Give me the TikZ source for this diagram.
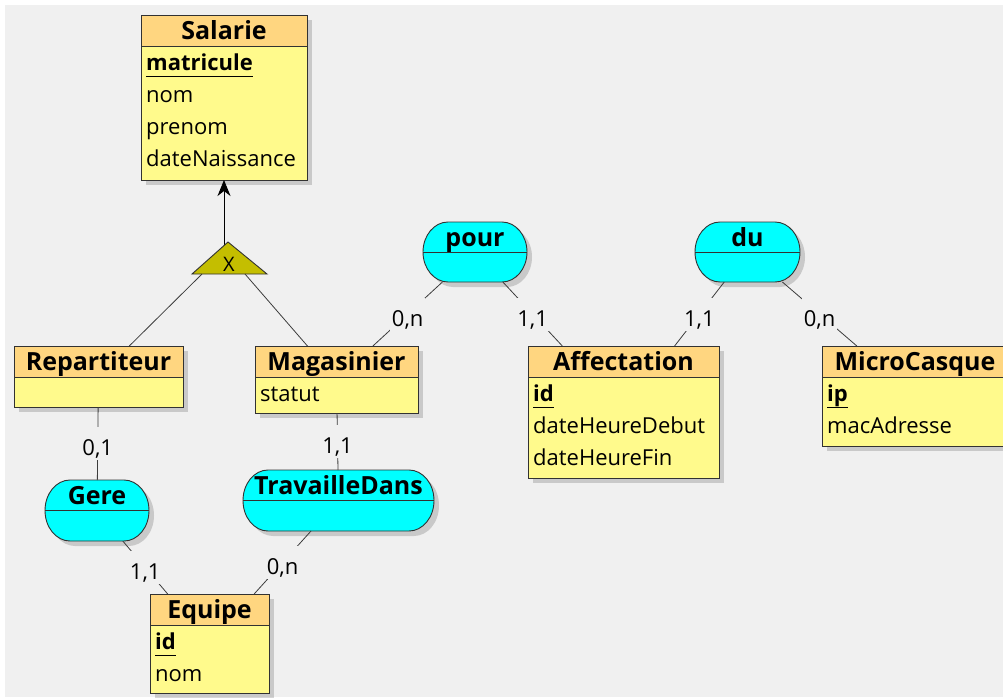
\documentclass[tikz,border=0pt]{standalone}
\usepackage{fontspec}
\setmainfont{Open Sans}
\usetikzlibrary{shadows,arrows.meta,calc}

\definecolor{bgcol}{RGB}{240,240,240}
\definecolor{headcol}{RGB}{255,214,128}
\definecolor{bodycol}{RGB}{255,250,140}
\definecolor{relcol}{RGB}{0,255,255}
\definecolor{tricol}{RGB}{196,190,0}
\definecolor{bordercol}{RGB}{50,50,50}
\definecolor{linkcol}{RGB}{60,60,60}

\newcommand{\attrfont}{\fontsize{22}{26}\selectfont}
\newcommand{\headfont}{\fontsize{25}{30}\selectfont\bfseries}
\newcommand{\keyattr}[1]{\setbox0\hbox{\bfseries #1}\rlap{\rule[-7pt]{\wd0}{1.5pt}}\box0}

% name, x1, y1, x2, y2, title
\newcommand{\entity}[6]{%
  \node[entbody, minimum width={(#4-#2)*1pt}, minimum height={(#5-#3)*1pt}] (#1) at ({(#2+#4)/2},{(#3+#5)/2}) {};
  \fill[headfill] (#1.north west) rectangle ([yshift=-31pt]#1.north east);
  \draw[entborder] ([yshift=-31pt]#1.north west) -- ([yshift=-31pt]#1.north east);
  \draw[entborder] (#1.north west) rectangle (#1.south east);
  \node[headtext] (#1-title) at ([yshift=-24.5pt]#1.north) {#6};
}
% name, x1, y1, x2, y2, title  (oval with flat top and bottom, elliptic ends)
\newcommand{\relation}[6]{%
  \node[relnode, minimum width={(#4-#2)*1pt}, minimum height={(#5-#3)*1pt}] (#1) at ({(#2+#4)/2},{(#3+#5)/2}) {};
  \pgfmathsetmacro{\ym}{(#3+#5)/2}
  \pgfmathsetmacro{\ry}{(#5-#3)/2}
  \pgfmathsetmacro{\rx}{25}
  \pgfmathsetmacro{\ka}{#2+\rx}
  \pgfmathsetmacro{\kb}{#4-\rx}
  \pgfmathsetmacro{\kc}{0.5523*\rx}
  \pgfmathsetmacro{\kd}{0.5523*\ry}
  \path[relshape] (\ka,#3) -- (\kb,#3)
    .. controls ({\kb+\kc},#3) and (#4,{\ym-\kd}) .. (#4,\ym)
    .. controls (#4,{\ym+\kd}) and ({\kb+\kc},#5) .. (\kb,#5)
    -- (\ka,#5)
    .. controls ({\ka-\kc},#5) and (#2,{\ym+\kd}) .. (#2,\ym)
    .. controls (#2,{\ym-\kd}) and ({\ka-\kc},#3) .. (\ka,#3) -- cycle;
  \draw[entborder] (#1.west) -- (#1.east);
  \node[headtext] (#1-title) at ([yshift=-24pt]#1.north) {#6};
}

\begin{document}
\begin{tikzpicture}[x=1pt, y=-1pt,
  entbody/.style={rectangle, fill=bodycol, inner sep=0pt, outer sep=0pt,
    drop shadow={shadow xshift=5pt, shadow yshift=-5pt, fill=black, opacity=0.16}},
  entborder/.style={draw=bordercol, line width=0.9pt},
  headfill/.style={fill=headcol},
  headtext/.style={anchor=base, font=\headfont, text=black, inner sep=0pt},
  attrtext/.style={anchor=base west, font=\attrfont, text=black, inner sep=0pt},
  relnode/.style={rectangle, inner sep=0pt, outer sep=0pt},
  relshape/.style={fill=relcol, draw=bordercol, line width=0.9pt,
    drop shadow={shadow xshift=5pt, shadow yshift=-5pt, fill=black, opacity=0.16}},
  linkline/.style={draw=linkcol, line width=0.8pt},
  isaarrow/.style={draw=black, line width=1pt, -{Stealth[length=16pt, width=13pt, inset=5pt]}},
  cardlabel/.style={fill=bgcol, font=\attrfont, text=black, inner xsep=2pt, inner ysep=0pt,
    text height=28.5pt, text depth=4.5pt},
  tristyle/.style={fill=tricol, draw=bordercol, line width=0.9pt}
]
\useasboundingbox (0,0) rectangle (1003,697);
\clip (0,0) rectangle (1003,697);
\fill[white] (0,0) rectangle (1003,697);
\fill[bgcol] (5,5) rectangle (1003,697);

% entities
\entity{sal}{141}{15}{307}{180}{Salarie}
\node[attrtext] (sal-a1) at ([xshift=5pt,yshift=-55pt]sal.north west) {\keyattr{matricule}};
\node[attrtext] (sal-a2) at ([xshift=5pt,yshift=-87pt]sal.north west) {nom};
\node[attrtext] (sal-a3) at ([xshift=5pt,yshift=-119pt]sal.north west) {prenom};
\node[attrtext] (sal-a4) at ([xshift=5pt,yshift=-151pt]sal.north west) {dateNaissance};

\entity{rep}{14}{346}{183}{407}{Repartiteur}

\entity{mag}{255}{346}{418}{413}{Magasinier}
\node[attrtext] (mag-a1) at ([xshift=5pt,yshift=-55pt]mag.north west) {statut};

\entity{aff}{528}{346}{719}{478}{Affectation}
\node[attrtext] (aff-a1) at ([xshift=5pt,yshift=-55pt]aff.north west) {\keyattr{id}};
\node[attrtext] (aff-a2) at ([xshift=5pt,yshift=-87pt]aff.north west) {dateHeureDebut};
\node[attrtext] (aff-a3) at ([xshift=5pt,yshift=-119pt]aff.north west) {dateHeureFin};

\entity{mic}{822}{346}{1008}{446}{MicroCasque}
\node[attrtext] (mic-a1) at ([xshift=5pt,yshift=-55pt]mic.north west) {\keyattr{ip}};
\node[attrtext] (mic-a2) at ([xshift=5pt,yshift=-87pt]mic.north west) {macAdresse};

\entity{equ}{150}{594}{269}{693}{Equipe}
\node[attrtext] (equ-a1) at ([xshift=5pt,yshift=-55pt]equ.north west) {\keyattr{id}};
\node[attrtext] (equ-a2) at ([xshift=5pt,yshift=-87pt]equ.north west) {nom};

% relations
\relation{pour}{423}{222}{527}{282}{pour}
\relation{du}{695}{222}{800}{282}{du}
\relation{gere}{45}{480}{149}{541}{Gere}
\relation{trav}{243}{470}{434}{531}{TravailleDans}

% inheritance
\coordinate (arrstart) at (224,252);
\draw[isaarrow] (arrstart) -- (sal);
\coordinate (triapex) at (228,242);
\coordinate (trir) at (267,274);
\coordinate (tril) at (192,274);
\filldraw[tristyle] (triapex) -- (trir) -- (tril) -- cycle;
\node[anchor=base, inner sep=0pt, font=\fontsize{20}{24}\selectfont] (trix) at (229,271) {X};
\coordinate (tribl) at (202,274);
\coordinate (tribr) at (245,274);
\draw[linkline] (tribl) -- (rep);
\draw[linkline] (tribr) -- (mag);

% associations
\draw[linkline] (rep) -- node[cardlabel] (c1) {0,1} (gere);
\draw[linkline] (gere) -- node[cardlabel] (c2) {1,1} (equ);
\draw[linkline] (mag) -- node[cardlabel] (c3) {1,1} (trav);
\draw[linkline] (trav) -- node[cardlabel] (c4) {0,n} (equ);
\draw[linkline] (pour) -- node[cardlabel] (c5) {0,n} (mag);
\draw[linkline] (pour) -- node[cardlabel] (c6) {1,1} (aff);
\draw[linkline] (du) -- node[cardlabel] (c7) {1,1} (aff);
\draw[linkline] (du) -- node[cardlabel] (c8) {0,n} (mic);
\end{tikzpicture}
\end{document}
